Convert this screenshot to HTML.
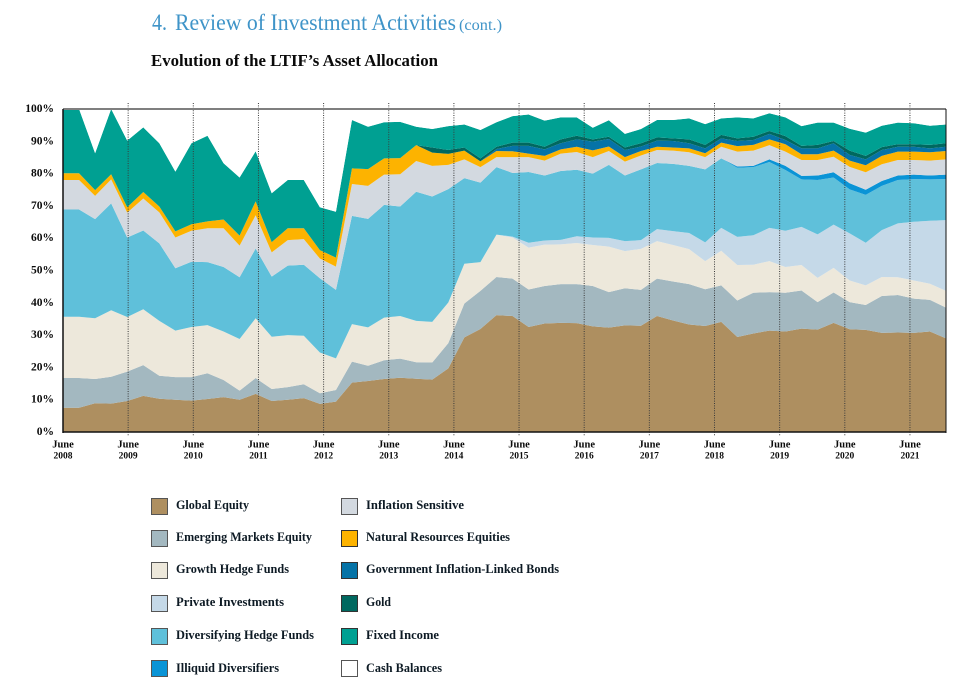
<!DOCTYPE html>
<html lang="en">
<head>
<meta charset="utf-8">
<title>Evolution of the LTIF's Asset Allocation</title>
<style>
html,body{margin:0;padding:0;background:#fff;width:967px;height:688px;overflow:hidden}
svg{display:block}
text{font-family:"Liberation Serif","DejaVu Serif",serif}
.lg{font-size:12.5px;font-weight:700;fill:#0d1a24}
.ax{font-weight:700;fill:#0b0b0b}
</style>
</head>
<body>
<svg id="page" width="967" height="688" viewBox="0 0 967 688" xmlns="http://www.w3.org/2000/svg">
  <text x="152" y="30" font-size="23" fill="#3f94c8" textLength="15" lengthAdjust="spacingAndGlyphs">4.</text>
  <text x="175" y="30" font-size="23" fill="#3f94c8" textLength="281" lengthAdjust="spacingAndGlyphs">Review of Investment Activities</text>
  <text x="459" y="30" font-size="15.5" fill="#3f94c8" textLength="43" lengthAdjust="spacingAndGlyphs">(cont.)</text>
  <text x="151" y="66" font-size="16.5" font-weight="700" fill="#0a0a0a" textLength="287" lengthAdjust="spacingAndGlyphs">Evolution of the LTIF’s Asset Allocation</text>

  <g id="plot"></g>
  <g id="ticks"></g>

  <g>
    <g><rect x="151.5" y="498.5" width="16" height="16" fill="#ae8f60" stroke="#555"/><text class="lg" x="176" y="509" textLength="73" lengthAdjust="spacingAndGlyphs">Global Equity</text></g>
    <g><rect x="151.5" y="530.5" width="16" height="16" fill="#a3b8c0" stroke="#555"/><text class="lg" x="176" y="541" textLength="136" lengthAdjust="spacingAndGlyphs">Emerging Markets Equity</text></g>
    <g><rect x="151.5" y="562.5" width="16" height="16" fill="#ede8db" stroke="#555"/><text class="lg" x="176" y="573" textLength="113" lengthAdjust="spacingAndGlyphs">Growth Hedge Funds</text></g>
    <g><rect x="151.5" y="595.5" width="16" height="16" fill="#c5d9e8" stroke="#555"/><text class="lg" x="176" y="606" textLength="108" lengthAdjust="spacingAndGlyphs">Private Investments</text></g>
    <g><rect x="151.5" y="628.5" width="16" height="16" fill="#5fc0da" stroke="#555"/><text class="lg" x="176" y="639" textLength="138" lengthAdjust="spacingAndGlyphs">Diversifying Hedge Funds</text></g>
    <g><rect x="151.5" y="660.5" width="16" height="16" fill="#0a94d6" stroke="#555"/><text class="lg" x="176" y="672" textLength="103" lengthAdjust="spacingAndGlyphs">Illiquid Diversifiers</text></g>
    <g><rect x="341.5" y="498.5" width="16" height="16" fill="#d3d9e0" stroke="#555"/><text class="lg" x="366" y="509" textLength="98" lengthAdjust="spacingAndGlyphs">Inflation Sensitive</text></g>
    <g><rect x="341.5" y="530.5" width="16" height="16" fill="#fdb300" stroke="#333"/><text class="lg" x="366" y="541" textLength="144" lengthAdjust="spacingAndGlyphs">Natural Resources Equities</text></g>
    <g><rect x="341.5" y="562.5" width="16" height="16" fill="#0573a7" stroke="#333"/><text class="lg" x="366" y="573" textLength="193" lengthAdjust="spacingAndGlyphs">Government Inflation-Linked Bonds</text></g>
    <g><rect x="341.5" y="595.5" width="16" height="16" fill="#00685f" stroke="#333"/><text class="lg" x="366" y="606" textLength="25" lengthAdjust="spacingAndGlyphs">Gold</text></g>
    <g><rect x="341.5" y="628.5" width="16" height="16" fill="#00a092" stroke="#333"/><text class="lg" x="366" y="639" textLength="73" lengthAdjust="spacingAndGlyphs">Fixed Income</text></g>
    <g><rect x="341.5" y="660.5" width="16" height="16" fill="#ffffff" stroke="#555"/><text class="lg" x="366" y="672" textLength="76" lengthAdjust="spacingAndGlyphs">Cash Balances</text></g>
  </g>
</svg>
<script>
var yTickLabels = ["0%","10%","20%","30%","40%","50%","60%","70%","80%","90%","100%"];
var yTickValues = [0,10,20,30,40,50,60,70,80,90,100];
var xTickYears = ["2008","2009","2010","2011","2012","2013","2014","2015","2016","2017","2018","2019","2020","2021"];
var xTickMonth = "June";

var globalEquity = [7.5,7.5,8.9,8.8,9.6,11.2,10.3,10.0,9.7,10.2,10.8,10.0,11.8,9.6,10.0,10.5,8.7,9.4,15.3,15.8,16.4,16.8,16.5,16.2,19.7,29.3,31.9,36.2,35.9,32.5,33.6,33.8,33.7,32.7,32.3,33.0,32.9,35.9,34.5,33.3,32.8,34.1,29.4,30.5,31.4,31.1,32.0,31.7,33.8,31.8,31.6,30.7,30.8,30.7,31.1,29.0];
var emergingMarketsEquity = [9.2,9.2,7.5,8.3,9.1,9.5,7.1,7.0,7.3,8.0,5.3,2.8,4.9,3.7,3.9,4.3,3.3,3.6,6.5,4.7,5.8,5.9,5.1,5.3,7.8,10.5,11.8,11.8,11.6,11.6,11.6,12.0,12.1,12.5,11.0,11.5,11.1,11.6,12.1,12.5,11.4,11.3,11.3,12.6,11.9,12.0,11.8,8.5,9.4,8.4,7.7,11.4,11.6,10.6,9.8,9.5];
var growthHedgeFunds = [19.0,19.0,18.8,20.6,16.9,17.3,17.0,14.4,15.5,14.9,15.0,16.0,18.5,16.2,16.1,15.0,12.6,9.8,11.6,11.9,13.2,13.2,12.8,12.6,12.6,12.3,8.9,13.1,12.7,13.0,12.8,12.3,12.7,12.7,14.1,11.5,12.7,11.6,11.3,10.8,8.7,10.7,11.0,8.7,9.6,8.0,7.9,7.5,7.6,6.7,6.1,5.9,5.5,5.6,5.0,5.2];
var privateInvestments = [0,0,0,0,0,0,0,0,0,0,0,0,0,0,0,0,0,0,0,0,0,0,0,0,0,0,0,0,0.3,1.5,1.3,1.4,2.1,2.3,2.7,3.1,2.7,3.7,4.3,5.0,5.8,7.1,8.7,9.1,10.3,11.2,11.8,13.5,13.4,14.6,13.2,14.5,16.7,18.2,19.5,21.9];
var diversifyingHedgeFunds = [33.2,33.2,30.7,33.1,24.6,24.4,24.0,19.3,20.2,19.5,20.0,19.1,21.6,18.6,21.5,22.0,23.0,21.2,33.5,33.6,34.9,33.9,40.0,38.8,35.1,26.5,24.6,20.9,19.7,21.9,20.1,21.3,20.6,19.8,22.6,20.3,21.9,20.5,20.8,20.8,22.6,21.5,21.4,21.1,20.4,18.8,14.7,16.8,14.6,13.6,14.8,13.7,13.4,13.2,12.8,12.7];
var illiquidDiversifiers = [0,0,0,0,0,0,0,0,0,0,0,0,0,0,0,0,0,0,0,0,0,0,0,0,0,0,0,0,0,0,0,0,0,0,0,0,0,0,0,0,0,0,0.4,0.4,0.8,1.3,1.1,1.4,1.6,1.9,1.6,1.5,1.4,1.4,1.2,1.4];
var inflationSensitive = [9.1,9.1,7.2,7.4,7.7,9.9,9.6,9.5,9.6,10.5,12.0,9.8,10.3,7.5,7.9,7.9,6.1,7.2,9.9,10.2,9.4,10.0,9.5,9.5,7.5,5.8,4.8,3.1,4.9,4.6,4.6,5.4,5.5,5.1,4.3,4.3,4.3,4.0,4.1,4.2,3.8,3.6,4.6,4.7,4.4,4.4,4.9,4.8,4.8,5.1,5.4,5.2,4.8,4.5,4.6,4.7];
var naturalResourcesEquities = [2.1,2.1,1.8,1.6,1.7,2.0,1.8,1.9,2.0,2.1,2.7,3.1,4.3,3.2,3.7,3.4,2.6,2.8,4.8,5.2,5.0,5.0,4.9,4.1,3.4,2.7,1.8,1.9,1.8,1.1,1.5,1.3,1.6,2.1,1.4,1.4,1.4,1.0,1.0,1.2,1.2,1.3,1.7,1.8,1.8,2.3,1.8,1.8,1.9,1.9,2.2,2.6,2.6,2.6,2.6,2.6];
var governmentInflationLinkedBonds = [0,0,0,0,0,0,0,0,0,0,0,0,0,0,0,0,0,0,0,0,0,0,0,0,0,0,0,0.6,1.7,2.4,2.0,1.9,2.3,2.7,2.3,2.2,1.4,1.9,2.0,1.6,1.5,1.3,1.6,1.5,1.7,1.3,1.8,1.8,2.3,1.8,1.8,1.8,1.5,1.5,1.2,1.3];
var gold = [0,0,0,0,0,0,0,0,0,0,0,0,0,0,0,0,0,0,0,0,0,0,0,1.6,1.2,1.0,0.9,0.7,1.0,1.0,0.8,1.2,1.1,0.7,0.7,0.8,1.0,1.0,0.8,1.2,1.1,1.1,0.8,1.0,0.9,1.2,0.8,1.1,0.7,1.3,1.1,0.9,0.8,0.8,1.1,1.1];
var fixedIncome = [19.9,19.9,11.4,20.2,20.6,20.0,19.6,18.5,25.1,26.5,17.4,18.0,15.5,15.1,14.9,14.9,13.3,14.2,15.0,13.1,11.2,11.2,5.7,5.7,7.4,7.1,8.8,7.6,8.2,8.7,8.1,6.8,5.7,3.6,5.1,4.2,4.4,5.4,5.7,6.5,6.4,5.1,6.5,5.7,5.5,5.8,6.1,6.9,5.7,6.8,7.2,6.6,6.7,6.5,5.9,5.8];
var cashBalances = [0,0,13.7,0,9.8,5.7,10.6,19.4,10.6,8.3,16.8,21.2,13.1,26.1,22.0,22.0,30.4,31.8,3.4,5.5,4.1,4.0,5.5,6.2,5.3,4.8,6.5,4.1,2.2,1.7,3.6,2.6,2.6,5.8,3.5,7.7,6.2,3.4,3.4,2.9,4.7,2.9,2.6,2.9,1.3,2.6,5.3,4.2,4.2,6.1,7.3,5.2,4.2,4.4,5.2,4.8];

var seriesNames = ["global-equity","emerging-markets-equity","growth-hedge-funds","private-investments","diversifying-hedge-funds","illiquid-diversifiers","inflation-sensitive","natural-resources-equities","government-inflation-linked-bonds","gold","fixed-income","cash-balances"];
var seriesColors = ["#ae8f60","#a3b8c0","#ede8db","#c5d9e8","#5fc0da","#0a94d6","#d3d9e0","#fdb300","#0573a7","#00685f","#00a092","#ffffff"];
var seriesValues = [globalEquity,emergingMarketsEquity,growthHedgeFunds,privateInvestments,diversifyingHedgeFunds,illiquidDiversifiers,inflationSensitive,naturalResourcesEquities,governmentInflationLinkedBonds,gold,fixedIncome,cashBalances];

var NS = "http://www.w3.org/2000/svg";
var plotLeft = 63, plotRight = 946, plotTop = 109, plotBottom = 432;
var pointCount = globalEquity.length;
function xScale(i){ return plotLeft + (plotRight - plotLeft) * i / (pointCount - 1); }
function yScale(v){ return plotBottom - (plotBottom - plotTop) * v / 100; }
function yearTickX(k){ return plotLeft + 65.15 * k; }
function make(tag, parent, attrs){
  var el = document.createElementNS(NS, tag);
  for (var a in attrs) el.setAttribute(a, attrs[a]);
  parent.appendChild(el);
  return el;
}

var plot = document.getElementById("plot");
var base = [];
for (var b = 0; b < pointCount; b++) base.push(0);
seriesValues.forEach(function(values, s){
  var top = values.map(function(v, i){ return base[i] + v; });
  var d = "";
  for (var i = 0; i < pointCount; i++) d += (i ? "L" : "M") + xScale(i).toFixed(2) + " " + yScale(top[i]).toFixed(2);
  for (var j = pointCount - 1; j >= 0; j--) d += "L" + xScale(j).toFixed(2) + " " + yScale(base[j]).toFixed(2);
  var area = make("path", plot, {d: d + "Z", fill: seriesColors[s]});
  
  
  base = top;
});

var ticks = document.getElementById("ticks");
xTickYears.forEach(function(year, k){
  var x = yearTickX(k);
  if (k > 0) {
    var guide = make("line", ticks, {x1: x, x2: x, y1: 103, y2: 436, stroke: "#3a3a3a", "stroke-width": 1, "stroke-dasharray": "1 1.4"});
    
    
  }
  var month = make("text", ticks, {x: x, y: 447.5, "text-anchor": "middle", "font-size": 10.5, "class": "ax"});
  month.textContent = xTickMonth;
  
  
  var yr = make("text", ticks, {x: x, y: 458.5, "text-anchor": "middle", "font-size": 9.5, "class": "ax"});
  yr.textContent = year;
  
  
});
yTickValues.forEach(function(v, k){
  var label = make("text", ticks, {x: 54, y: yScale(v) + 3, "text-anchor": "end", "font-size": 11.5, "class": "ax"});
  label.textContent = yTickLabels[k];
  
  
});
var topRule = make("line", ticks, {x1: plotLeft, x2: plotRight, y1: plotTop, y2: plotTop, stroke: "#7f7f7f", "stroke-width": 2});


var leftAxis = make("line", ticks, {x1: plotLeft, x2: plotLeft, y1: plotTop, y2: plotBottom + 1, stroke: "#111", "stroke-width": 1.5});


var rightAxis = make("line", ticks, {x1: plotRight, x2: plotRight, y1: plotTop, y2: plotBottom + 1, stroke: "#111", "stroke-width": 1});


var bottomAxis = make("line", ticks, {x1: plotLeft, x2: plotRight, y1: plotBottom, y2: plotBottom, stroke: "#111", "stroke-width": 1.5});


</script>
</body>
</html>
